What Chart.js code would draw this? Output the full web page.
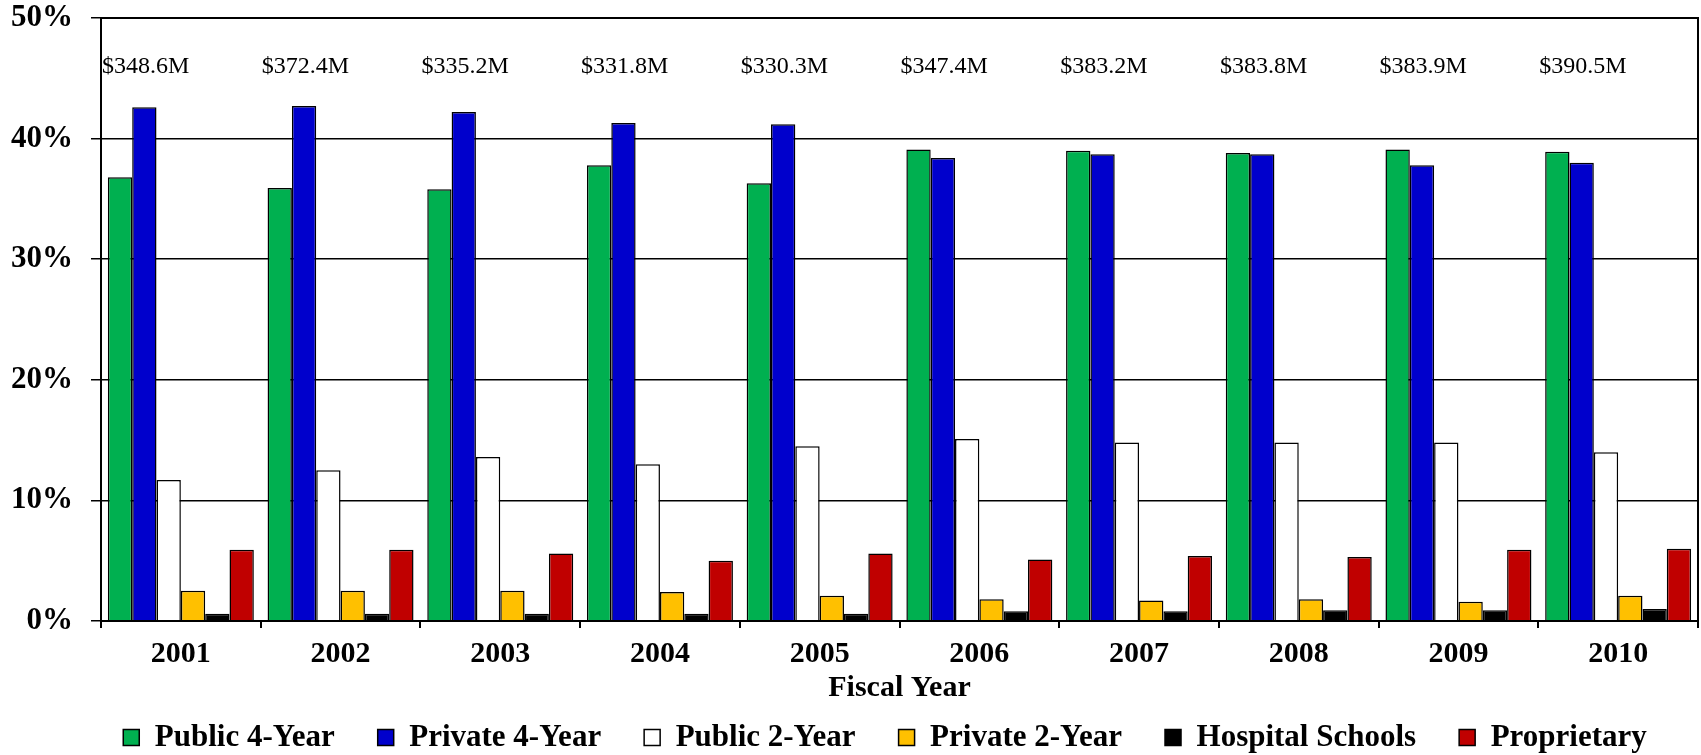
<!DOCTYPE html>
<html>
<head>
<meta charset="utf-8">
<script src="https://cdn.jsdelivr.net/npm/chart.js@4.4.0/dist/chart.umd.min.js"></script>
<style>
  html, body { margin: 0; padding: 0; background: #fff; }
</style>
</head>
<body>
<canvas id="chart" width="1701" height="755"></canvas>
<script>
// fiscal years and total funding per year
const years  = ['2001', '2002', '2003', '2004', '2005', '2006', '2007', '2008', '2009', '2010'];
const totals = ['$348.6M', '$372.4M', '$335.2M', '$331.8M', '$330.3M', '$347.4M', '$383.2M', '$383.8M', '$383.9M', '$390.5M'];

// share of funding by institution type (%)
const public4   = [36.8, 35.9, 35.8, 37.8, 36.3, 39.1, 39.0, 38.8, 39.1, 38.9];
const private4  = [42.6, 42.7, 42.2, 41.3, 41.2, 38.4, 38.7, 38.7, 37.8, 38.0];
const public2   = [11.7, 12.5, 13.6, 13.0, 14.5, 15.1, 14.8, 14.8, 14.8, 14.0];
const private2  = [2.5, 2.5, 2.5, 2.4, 2.1, 1.8, 1.7, 1.8, 1.6, 2.1];
const hospital  = [0.6, 0.6, 0.6, 0.6, 0.6, 0.8, 0.8, 0.9, 0.9, 1.0];
const propriet  = [5.9, 5.9, 5.6, 5.0, 5.6, 5.1, 5.4, 5.3, 5.9, 6.0];

const yTicks = [0, 10, 20, 30, 40, 50];

const SERIF = '"Liberation Serif", "Times New Roman", serif';

function series(label, data, color) {
  return {
    label, data,
    backgroundColor: color,
    borderColor: '#000',
    borderWidth: 1.5,
    categoryPercentage: 0.914,
    barPercentage: 1.0
  };
}

// plot frame + yearly totals across the top
const frameAndTotals = {
  id: 'frameAndTotals',
  afterLayout(chart) {
    // centre the legend row under the plot rather than the whole canvas
    chart.legend.left += 36;
    chart.legend.right += 36;
  },
  afterDatasetsDraw(chart) {
    const { ctx, chartArea: a, scales: { x, y } } = chart;
    ctx.save();
    ctx.strokeStyle = '#000';
    ctx.lineWidth = 2;
    ctx.strokeRect(a.left, a.top, a.right - a.left, a.bottom - a.top);

    ctx.font = '24px ' + SERIF;
    ctx.fillStyle = '#000';
    ctx.textAlign = 'left';
    ctx.textBaseline = 'middle';
    const half = (x.getPixelForValue(1) - x.getPixelForValue(0)) / 2;
    totals.forEach((t, i) => {
      ctx.fillText(t, x.getPixelForValue(i) - half + 1, y.getPixelForValue(46));
    });
    ctx.restore();
  }
};

new Chart(document.getElementById('chart').getContext('2d'), {
  type: 'bar',
  data: {
    labels: years,
    datasets: [
      series('Public 4-Year', public4, '#00B050'),
      series('Private 4-Year', private4, '#0000CC'),
      series('Public 2-Year', public2, '#FFFFFF'),
      series('Private 2-Year', private2, '#FFC000'),
      series('Hospital Schools', hospital, '#000000'),
      series('Proprietary', propriet, '#C00000')
    ]
  },
  options: {
    responsive: false,
    devicePixelRatio: 1,
    animation: false,
    layout: { padding: { top: 18, right: 3, left: 0, bottom: -8 } },
    plugins: {
      tooltip: { enabled: false },
      legend: {
        position: 'bottom',
        labels: {
          color: '#000',
          font: { family: SERIF, size: 31, weight: 'bold' },
          boxWidth: 16,
          boxHeight: 16,
          padding: 43
        }
      }
    },
    scales: {
      x: {
        grid: { drawOnChartArea: false, drawTicks: true, tickLength: 7, color: '#000', lineWidth: 2 },
        border: { color: '#000', width: 2 },
        ticks: { color: '#000', padding: 8, font: { family: SERIF, size: 30, weight: 'bold' } },
        title: {
          display: true, text: 'Fiscal Year', color: '#000',
          font: { family: SERIF, size: 30, weight: 'bold' },
          padding: { top: 0, bottom: -27 }
        },
        afterFit(scale) { scale.height = 58; }
      },
      y: {
        min: 0, max: 50,
        afterBuildTicks(scale) { scale.ticks = yTicks.map(v => ({ value: v })); },
        grid: { color: '#000', lineWidth: 1.5, tickLength: 10 },
        border: { color: '#000', width: 2 },
        ticks: {
          color: '#000', padding: 18,
          font: { family: SERIF, size: 31, weight: 'bold' },
          callback: v => v + '%'
        },
        afterFit(scale) {
          scale.width = 101;
          scale.paddingTop = 0;
          scale.paddingBottom = 0;
        }
      }
    }
  },
  plugins: [frameAndTotals]
});
</script>
</body>
</html>
